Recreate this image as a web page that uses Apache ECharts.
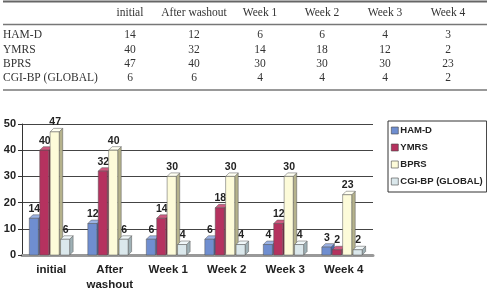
<!DOCTYPE html>
<html><head><meta charset="utf-8">
<script src="https://cdn.jsdelivr.net/npm/echarts@6/dist/echarts.min.js"></script>
<style>html,body{margin:0;padding:0;background:#fff}#c{width:487px;height:290px}</style>
</head><body><div id="c"></div>
<script>
const categories = ['initial', 'After\nwashout', 'Week 1', 'Week 2', 'Week 3', 'Week 4'];
const tableHeaders = ['initial', 'After washout', 'Week 1', 'Week 2', 'Week 3', 'Week 4'];
const seriesNames = ['HAM-D', 'YMRS', 'BPRS', 'CGI-BP (GLOBAL)'];
const hamd = [14, 12, 6, 6, 4, 3];
const ymrs = [40, 32, 14, 18, 12, 2];
const bprs = [47, 40, 30, 30, 30, 23];
const cgi = [6, 6, 4, 4, 4, 2];
const yTicks = [0, 10, 20, 30, 40, 50];
const seriesValues = [hamd, ymrs, bprs, cgi];

const palette = [
  {front: '#6f8ed0', top: '#9bb2e4', side: '#4a67a8'},
  {front: '#b5325f', top: '#cf5a80', side: '#7d1e41'},
  {front: '#fdfbd9', top: '#fffff2', side: '#b5b28c'},
  {front: '#dbe8ec', top: '#f0f7f9', side: '#9fb1b6'}
];

const chart = echarts.init(document.getElementById('c'), null, {renderer: 'canvas'});

const colX = [130, 194, 260, 322, 385, 448];
const rowY = [35, 50, 64, 78];
const tFont = '11.5px "Liberation Serif", "Times New Roman", serif';
const tableEls = [];
tableEls.push({type: 'line', shape: {x1: 3, y1: 1.5, x2: 487, y2: 1.5}, style: {stroke: '#666', lineWidth: 2}});
tableEls.push({type: 'line', shape: {x1: 3, y1: 24.5, x2: 487, y2: 24.5}, style: {stroke: '#777', lineWidth: 1.5}});
tableEls.push({type: 'line', shape: {x1: 3, y1: 90, x2: 487, y2: 90}, style: {stroke: '#777', lineWidth: 1.5}});
tableHeaders.forEach((h, j) => {
  tableEls.push({type: 'text', x: colX[j], y: 13, style: {text: h, font: tFont, fill: '#333', align: 'center', verticalAlign: 'middle'}});
});
seriesNames.forEach((n, i) => {
  tableEls.push({type: 'text', x: 3, y: rowY[i], style: {text: n, font: tFont, fill: '#333', align: 'left', verticalAlign: 'middle'}});
  seriesValues[i].forEach((v, j) => {
    tableEls.push({type: 'text', x: colX[j], y: rowY[i], style: {text: String(v), font: tFont, fill: '#333', align: 'center', verticalAlign: 'middle'}});
  });
});

function makeRender(si) {
  return function (params, api) {
    const cat = api.value(0), v = api.value(1);
    const top = api.coord([cat, v]);
    const base = api.coord([cat, 0]);
    const band = api.size([1, 0])[0];
    const w = band * 0.155, pitch = band * 0.178;
    const x0 = base[0] - band * 0.375 + si * pitch;
    const d = 3.5;
    const c = palette[si];
    const yT = top[1], yB = base[1];
    return {
      type: 'group',
      children: [
        {type: 'polygon', shape: {points: [[x0 + w, yT], [x0 + w + d, yT - d], [x0 + w + d, yB - d], [x0 + w, yB]]},
         style: {fill: c.side, stroke: '#555', lineWidth: 0.5}},
        {type: 'polygon', shape: {points: [[x0, yT], [x0 + d, yT - d], [x0 + w + d, yT - d], [x0 + w, yT]]},
         style: {fill: c.top, stroke: '#555', lineWidth: 0.5}},
        {type: 'rect', shape: {x: x0, y: yT, width: w, height: yB - yT},
         style: {fill: c.front, stroke: '#555', lineWidth: 0.5}},
        {type: 'text', x: x0 + w / 2 + 0.5, y: yT - d - 6,
         style: {text: String(v), font: 'bold 10.5px "Liberation Sans", Arial, sans-serif', fill: '#222', align: 'center', verticalAlign: 'middle'}}
      ]
    };
  };
}

const series = seriesNames.map((name, si) => ({
  name: name,
  type: 'custom',
  renderItem: makeRender(si),
  encode: {x: 0, y: 1},
  itemStyle: {color: palette[si].front, borderColor: '#444', borderWidth: 0.6},
  data: seriesValues[si].map((v, j) => [j, v]),
  z: 3
}));

chart.setOption({
  animation: false,
  backgroundColor: '#fff',
  grid: {left: 22, right: 114, top: 124, bottom: 35, containLabel: false, outerBoundsMode: 'none'},
  xAxis: {
    type: 'category', data: categories,
    axisLine: {show: true, lineStyle: {color: '#999', width: 3}},
    axisTick: {show: false},
    axisLabel: {margin: 8, interval: 0, color: '#222', fontFamily: '"Liberation Sans", Arial, sans-serif', fontWeight: 'bold', fontSize: 11.5, lineHeight: 14.5, verticalAlign: 'top'},
    splitLine: {show: false}
  },
  yAxis: {
    type: 'value', min: yTicks[0], max: yTicks[yTicks.length - 1], interval: 10,
    axisLine: {show: true, lineStyle: {color: '#333', width: 1}},
    axisTick: {show: true, length: 4, lineStyle: {color: '#333'}},
    axisLabel: {margin: 6, color: '#222', fontFamily: '"Liberation Sans", Arial, sans-serif', fontWeight: 'bold', fontSize: 11},
    splitLine: {show: true, lineStyle: {color: '#444', width: 1}}
  },
  legend: {
    orient: 'vertical', left: 388, top: 121,
    data: seriesNames.map(n => ({name: n, icon: 'rect'})),
    itemWidth: 7, itemHeight: 7, itemGap: 6,
    padding: [4, 4, 5, 3],
    borderColor: '#333', borderWidth: 1, backgroundColor: '#fff',
    textStyle: {color: '#222', fontFamily: '"Liberation Sans", Arial, sans-serif', fontWeight: 'bold', fontSize: 9.5, padding: [0, 0, 0, -3], lineHeight: 11},
    itemStyle: {borderColor: '#444', borderWidth: 0.6}
  },
  graphic: tableEls,
  series: series
});
</script></body></html>
